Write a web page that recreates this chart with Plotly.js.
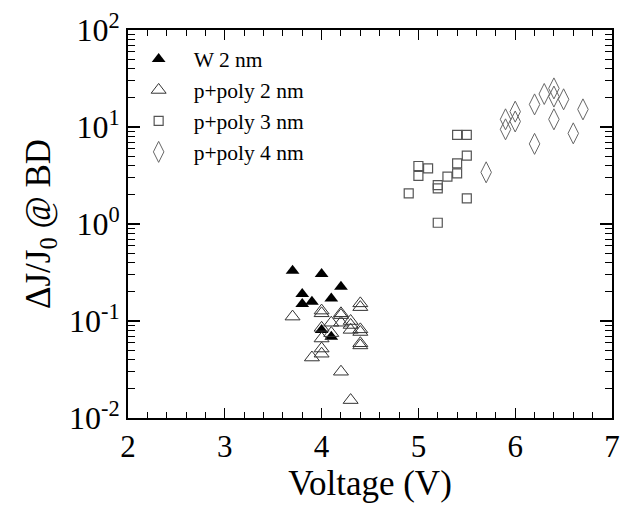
<!DOCTYPE html>
<html>
<head>
<meta charset="utf-8">
<script src="https://cdn.plot.ly/plotly-3.0.1.min.js"></script>
<style>html,body{margin:0;padding:0;background:#fff;}#chart{width:628px;height:508px;}</style>
</head>
<body>
<div id="chart"></div>
<script>
// W 2 nm (filled triangles)
const w2_V = [3.7, 3.8, 3.8, 3.9, 4.0, 4.0, 4.1, 4.1, 4.2];
const w2_J = [0.33, 0.19, 0.15, 0.158, 0.305, 0.081, 0.171, 0.069, 0.226];

// p+poly 2 nm (open triangles)
const pp2_V = [3.7, 4.0, 4.0, 4.2, 4.2, 4.4, 4.4, 4.1, 4.2, 4.3, 4.3, 4.3, 4.4, 4.4,
               4.0, 4.1, 4.0, 4.0, 4.0, 3.9, 4.4, 4.4, 4.2, 4.3];
const pp2_J = [0.111, 0.128, 0.120, 0.120, 0.115, 0.152, 0.139, 0.096, 0.096, 0.100, 0.091, 0.081, 0.082, 0.077,
               0.085, 0.075, 0.066, 0.052, 0.046, 0.042, 0.059, 0.056, 0.030, 0.0153];

// p+poly 3 nm (open squares)
const pp3_V = [5.4, 5.5, 5.5, 5.0, 5.1, 5.4, 5.0, 5.3, 5.4, 5.2, 5.2, 4.9, 5.5, 5.2];
const pp3_J = [8.3, 8.3, 5.06, 3.96, 3.75, 4.22, 3.13, 3.08, 3.33, 2.52, 2.33, 2.07, 1.84, 1.03];

// p+poly 4 nm (open diamonds)
const pp4_V = [5.7, 5.9, 5.9, 6.0, 6.0, 6.2, 6.3, 6.4, 6.4, 6.5, 6.4, 6.7, 6.6, 6.2];
const pp4_J = [3.41, 12.0, 9.46, 14.4, 11.4, 17.1, 21.9, 25.0, 20.6, 19.3, 12.0, 15.2, 8.6, 6.7];

const yTickVals = [0.01, 0.1, 1, 10, 100];
const yTickText = ['10<sup>-2</sup>', '10<sup>-1</sup>', '10<sup>0</sup>', '10<sup>1</sup>', '10<sup>2</sup>'];
const xTickVals = [2, 3, 4, 5, 6, 7];

const serif = '"Liberation Serif", "Times New Roman", serif';

const traces = [
  {x: w2_V, y: w2_J, name: 'W 2 nm', type: 'scatter', mode: 'markers',
   marker: {symbol: 'triangle-up', size: 12, color: '#000', line: {width: 0}}},
  {x: pp2_V, y: pp2_J, name: 'p+poly 2 nm', type: 'scatter', mode: 'markers',
   marker: {symbol: 'triangle-up-open', size: 13, color: '#333', line: {width: 1}}},
  {x: pp3_V, y: pp3_J, name: 'p+poly 3 nm', type: 'scatter', mode: 'markers',
   marker: {symbol: 'square-open', size: 9, color: '#555', line: {width: 1.2}}},
  {x: pp4_V, y: pp4_J, name: 'p+poly 4 nm', type: 'scatter', mode: 'markers',
   marker: {symbol: 'diamond-tall-open', size: 15, color: '#666', line: {width: 1}}}
];

const layout = {
  width: 628, height: 508,
  margin: {l: 128, r: 16, t: 30, b: 90},
  paper_bgcolor: '#fff', plot_bgcolor: '#fff',
  font: {family: serif, color: '#000'},
  showlegend: true,
  legend: {x: -0.009, y: 0.978, xanchor: 'left', yanchor: 'top',
           bgcolor: 'rgba(0,0,0,0)', borderwidth: 0,
           font: {family: serif, size: 21.5, color: '#000'},
           tracegroupgap: 0, itemwidth: 60},
  xaxis: {
    range: [2, 7], tickvals: xTickVals, ticktext: xTickVals.map(String),
    ticks: 'inside', ticklen: 10, tickwidth: 1.2, tickcolor: '#000',
    mirror: 'ticks', showline: true, linecolor: '#000', linewidth: 2,
    showgrid: false, zeroline: false,
    tickfont: {family: serif, size: 31, color: '#000'},
    minor: {dtick: 0.2, ticks: 'inside', ticklen: 6, tickwidth: 1, tickcolor: '#000', showgrid: false},
    title: {text: 'Voltage (V)', font: {family: serif, size: 35, color: '#000'}, standoff: 6}
  },
  yaxis: {
    type: 'log', range: [-2, 2], tickvals: yTickVals, ticktext: yTickText,
    ticks: 'inside', ticklen: 12, tickwidth: 1.2, tickcolor: '#000',
    mirror: 'ticks', showline: true, linecolor: '#000', linewidth: 2,
    showgrid: false, zeroline: false,
    tickfont: {family: serif, size: 32, color: '#000'},
    minor: {dtick: 'D1', ticks: 'inside', ticklen: 7, tickwidth: 1, tickcolor: '#000', showgrid: false},
    title: {text: '&#916;J/J<sub>0</sub> @ BD', font: {family: serif, size: 35, color: '#000'}, standoff: 8}
  }
};

Plotly.newPlot('chart', traces, layout, {staticPlot: true, displayModeBar: false});
</script>
</body>
</html>
